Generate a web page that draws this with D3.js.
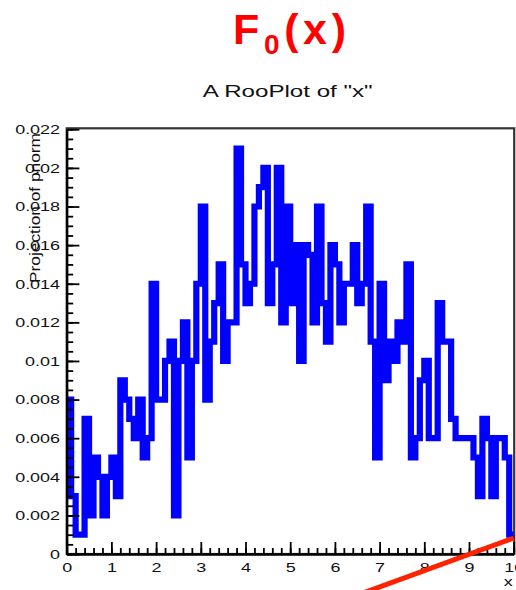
<!DOCTYPE html>
<html>
<head>
<meta charset="utf-8">
<script src="https://cdn.jsdelivr.net/npm/d3@7"></script>
<style>
  html, body { margin: 0; padding: 0; background: #fff; }
  svg { display: block; }
  text { font-family: "Liberation Sans", Arial, Helvetica, sans-serif; }
</style>
</head>
<body>
<svg id="chart" width="516" height="590"></svg>
<script>
// ---- data -------------------------------------------------------------
// binned pdf "pnorm": 100 bins of width 0.1 on x in [0, 10]
const xRange = [0, 10];
const binWidth = 0.1;
const pnormValues = [
  0.008, 0.003, 0.001, 0.001, 0.007, 0.002, 0.005, 0.004, 0.002, 0.004,
  0.005, 0.003, 0.009, 0.008, 0.007, 0.006, 0.008, 0.005, 0.006, 0.014,
  0.008, 0.008, 0.010, 0.011, 0.002, 0.010, 0.012, 0.005, 0.010, 0.014,
  0.018, 0.008, 0.011, 0.013, 0.015, 0.010, 0.012, 0.012, 0.021, 0.015,
  0.013, 0.014, 0.018, 0.019, 0.020, 0.013, 0.015, 0.020, 0.012, 0.018,
  0.013, 0.016, 0.010, 0.016, 0.0155, 0.012, 0.018, 0.013, 0.011, 0.016,
  0.015, 0.012, 0.014, 0.014, 0.016, 0.013, 0.014, 0.018, 0.011, 0.005,
  0.014, 0.009, 0.011, 0.010, 0.012, 0.011, 0.015, 0.005, 0.006, 0.009,
  0.010, 0.006, 0.006, 0.013, 0.011, 0.011, 0.007, 0.006, 0.006, 0.006,
  0.006, 0.005, 0.003, 0.007, 0.006, 0.003, 0.006, 0.006, 0.005, 0.001
];

// straight overlay line F0(x)
const lineX = [6.5, 10];
const lineY = [-0.00213, 0.00083];

// axis ticks and labels
const xTicks = [0, 1, 2, 3, 4, 5, 6, 7, 8, 9, 10];
const xTickLabels = ["0", "1", "2", "3", "4", "5", "6", "7", "8", "9", "10"];
const yTicks = [0, 0.002, 0.004, 0.006, 0.008, 0.010, 0.012, 0.014, 0.016, 0.018, 0.020, 0.022];
const yTickLabels = ["0", "0.002", "0.004", "0.006", "0.008", "0.01", "0.012", "0.014", "0.016", "0.018", "0.02", "0.022"];
const yDomain = [0, 0.022];

// ---- layout -----------------------------------------------------------
const svg = d3.select("#chart");
const W = 516, H = 590;
const plot = { left: 66.7, right: 513.7, top: 129.3, bottom: 554 };
const textStretch = 1.33;

svg.append("rect").attr("width", W).attr("height", H).attr("fill", "#fff");

const x = d3.scaleLinear().domain(xRange).range([plot.left, plot.right]);
const y = d3.scaleLinear().domain(yDomain).range([plot.bottom, plot.top]);

// titles
const title = svg.append("text")
  .attr("x", 289.5).attr("y", 44)
  .attr("text-anchor", "middle")
  .attr("fill", "#ff0000")
  .attr("font-weight", "bold")
  .attr("font-size", 43)
  .attr("textLength", 113)
  .attr("lengthAdjust", "spacing");
title.append("tspan").text("F");
title.append("tspan").attr("font-size", 28).attr("dy", 10).text("0");
title.append("tspan").attr("dy", -10).text("(x)");

svg.append("text")
  .attr("x", 287.7).attr("y", 97)
  .attr("text-anchor", "middle")
  .attr("fill", "#111")
  .attr("font-size", 16.3)
  .attr("textLength", 170)
  .attr("lengthAdjust", "spacingAndGlyphs")
  .text('A RooPlot of "x"');

// frame
svg.append("rect")
  .attr("x", plot.left).attr("y", plot.top - 1)
  .attr("width", plot.right - plot.left + 0.5)
  .attr("height", plot.bottom - plot.top + 1)
  .attr("fill", "none")
  .attr("stroke", "#333")
  .attr("stroke-width", 2.2);

// step curve of the binned pdf
svg.append("clipPath").attr("id", "plotClip")
  .append("rect")
  .attr("x", plot.left).attr("y", plot.top - 2)
  .attr("width", plot.right - plot.left + 1)
  .attr("height", plot.bottom - plot.top + 2);

const edges = d3.range(pnormValues.length + 1).map(i => xRange[0] + i * binWidth);
const stepPoints = pnormValues.map((v, i) => [edges[i], v]);
stepPoints.push([edges[pnormValues.length], pnormValues[pnormValues.length - 1]]);

const stepLine = d3.line()
  .x(d => x(d[0]))
  .y(d => y(d[1]))
  .curve(d3.curveStepAfter);

svg.append("path")
  .datum(stepPoints)
  .attr("clip-path", "url(#plotClip)")
  .attr("d", stepLine)
  .attr("fill", "none")
  .attr("stroke", "#0000ff")
  .attr("stroke-width", 6.2)
  .attr("stroke-linejoin", "miter")
  .attr("stroke-linecap", "butt");

// axes: ticks point into the frame
const yMinor = d3.range(0, 0.0225, 0.0005).filter(v => v <= yDomain[1] + 1e-9);
const xMinor = d3.range(0, 10.0001, 0.2);

function styleAxis(g) {
  g.select(".domain").attr("stroke", "#000").attr("stroke-width", 2);
  g.selectAll(".tick line").attr("stroke", "#000").attr("stroke-width", 1.8);
}

const yMinorAxis = svg.append("g")
  .attr("transform", `translate(${plot.left},0)`)
  .call(d3.axisLeft(y).tickValues(yMinor).tickSize(-6.5).tickSizeOuter(0).tickFormat(""));
styleAxis(yMinorAxis);

const yAxis = svg.append("g")
  .attr("transform", `translate(${plot.left},0)`)
  .call(d3.axisLeft(y).tickValues(yTicks).tickSize(-12.7).tickSizeOuter(0)
    .tickPadding(5).tickFormat((d, i) => yTickLabels[i]));
styleAxis(yAxis);
yAxis.selectAll(".tick text")
  .attr("font-size", 13.5)
  .attr("fill", "#111")
  .attr("font-family", '"Liberation Sans", Arial, sans-serif')
  .attr("transform", `scale(${textStretch},1)`);

const xMinorAxis = svg.append("g")
  .attr("transform", `translate(0,${plot.bottom})`)
  .call(d3.axisBottom(x).tickValues(xMinor).tickSize(-6).tickSizeOuter(0).tickFormat(""));
styleAxis(xMinorAxis);

const xAxis = svg.append("g")
  .attr("transform", `translate(0,${plot.bottom})`)
  .call(d3.axisBottom(x).tickValues(xTicks).tickSize(-12).tickSizeOuter(0)
    .tickPadding(8).tickFormat((d, i) => xTickLabels[i]));
styleAxis(xAxis);
xAxis.selectAll(".tick text")
  .attr("font-size", 13.5)
  .attr("fill", "#111")
  .attr("font-family", '"Liberation Sans", Arial, sans-serif')
  .attr("transform", `scale(${textStretch},1)`);

// axis titles
svg.append("text")
  .attr("transform", "translate(40,133) rotate(-90)")
  .attr("text-anchor", "end")
  .attr("fill", "#111")
  .attr("font-size", 14)
  .attr("textLength", 150)
  .attr("lengthAdjust", "spacingAndGlyphs")
  .text("Projection of pnorm");

svg.append("g")
  .attr("transform", `translate(${plot.right - 1},586)`)
  .append("text")
  .attr("text-anchor", "end")
  .attr("fill", "#111")
  .attr("font-size", 13.5)
  .attr("transform", `scale(${textStretch},1)`)
  .text("x");

// overlay line
const overlay = d3.line().x(d => x(d[0])).y(d => y(d[1]));
svg.append("path")
  .datum(lineX.map((v, i) => [v, lineY[i]]))
  .attr("d", overlay)
  .attr("fill", "none")
  .attr("stroke", "#ff2200")
  .attr("stroke-width", 5);
</script>
</body>
</html>
